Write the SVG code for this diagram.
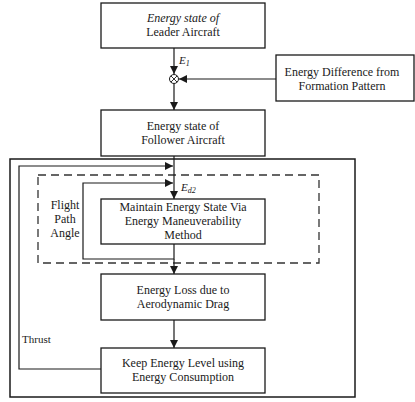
<svg xmlns="http://www.w3.org/2000/svg" width="415" height="402" viewBox="0 0 415 402">
<defs>
<marker id="ah" viewBox="0 0 10 10" refX="10" refY="5" markerWidth="8" markerHeight="8" markerUnits="userSpaceOnUse" orient="auto">
<path d="M0,0 L10,5 L0,10 z" fill="#1a1a1a"/>
</marker>
<style>
.box{fill:#fff;stroke:#1a1a1a;stroke-width:1.3}
.ln{fill:none;stroke:#1a1a1a;stroke-width:1.2}
.t{font-family:"Liberation Serif","Times New Roman",serif;font-size:12px;fill:#1a1a1a;text-anchor:middle}
.s{font-family:"Liberation Serif","Times New Roman",serif;font-size:11px;fill:#1a1a1a}
</style>
</defs>
<rect width="415" height="402" fill="#fff"/>
<g id="frame">
<rect x="10" y="159" width="345" height="238" fill="none" stroke="#1a1a1a" stroke-width="1.5"/>
<rect x="38" y="175" width="281" height="88" fill="none" stroke="#333" stroke-width="1.3" stroke-dasharray="8,5"/>
</g>
<g id="connectors">
<line class="ln" x1="174" y1="48" x2="174" y2="74" marker-end="url(#ah)"/>
<line class="ln" x1="276" y1="79" x2="179" y2="79" marker-end="url(#ah)"/>
<line class="ln" x1="174" y1="84" x2="174" y2="110" marker-end="url(#ah)"/>
<line class="ln" x1="174" y1="156" x2="174" y2="199" marker-end="url(#ah)"/>
<polyline class="ln" points="101,369 19,369 19,166 173,166" marker-end="url(#ah)"/>
<polyline class="ln" points="174,244 174,259 83,259 83,183 173,183" marker-end="url(#ah)"/>
<line class="ln" x1="174" y1="259" x2="174" y2="274" marker-end="url(#ah)"/>
<line class="ln" x1="174" y1="320" x2="174" y2="348" marker-end="url(#ah)"/>
</g>
<g id="sum">
<circle cx="174" cy="79" r="4.5" fill="#fff" stroke="#1a1a1a" stroke-width="1"/>
<path d="M170.8,75.8 L177.2,82.2 M177.2,75.8 L170.8,82.2" stroke="#1a1a1a" stroke-width="0.9"/>
<text class="s" x="179" y="64" font-style="italic">E<tspan font-size="8" dy="2">1</tspan></text>
</g>
<g id="leader">
<rect class="box" x="101" y="3" width="164" height="45"/>
<text class="t" x="183" y="22" font-style="italic">Energy state of</text>
<text class="t" x="183" y="36">Leader Aircraft</text>
</g>
<g id="formation">
<rect class="box" x="276" y="55" width="138" height="46"/>
<text class="t" x="342" y="76">Energy Difference from</text>
<text class="t" x="342" y="90">Formation Pattern</text>
</g>
<g id="follower">
<rect class="box" x="101" y="110" width="164" height="46"/>
<text class="t" x="183" y="130">Energy state of</text>
<text class="t" x="183" y="144">Follower Aircraft</text>
</g>
<g id="maintain">
<rect class="box" x="101" y="199" width="164" height="45"/>
<text class="t" x="183" y="211">Maintain Energy State Via</text>
<text class="t" x="183" y="225">Energy Maneuverability</text>
<text class="t" x="183" y="239">Method</text>
<text class="s" x="181" y="191" font-style="italic">E<tspan font-size="8" dy="2">d2</tspan></text>
</g>
<g id="loss">
<rect class="box" x="101" y="274" width="164" height="46"/>
<text class="t" x="183" y="294">Energy Loss due to</text>
<text class="t" x="183" y="308">Aerodynamic Drag</text>
</g>
<g id="keep">
<rect class="box" x="101" y="348" width="164" height="45"/>
<text class="t" x="183" y="367">Keep Energy Level using</text>
<text class="t" x="183" y="381">Energy Consumption</text>
</g>
<g id="labels">
<text class="t" x="65" y="209">Flight</text>
<text class="t" x="65" y="223">Path</text>
<text class="t" x="65" y="237">Angle</text>
<text class="s" x="22" y="343">Thrust</text>
</g>
</svg>
